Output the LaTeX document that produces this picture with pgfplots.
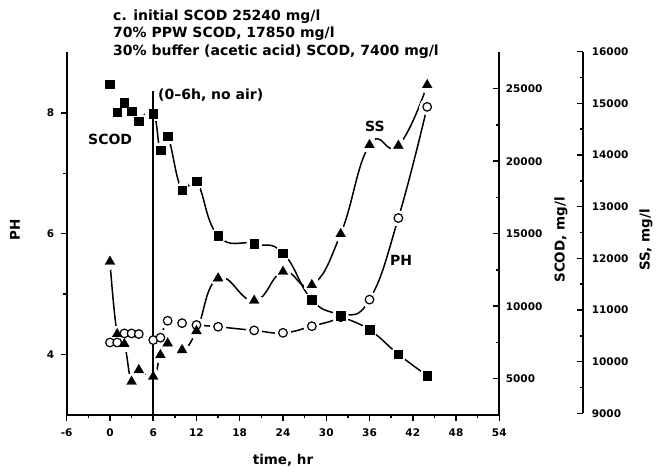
\documentclass[border=0pt]{standalone}
\usepackage{fontspec}
\setmainfont{DejaVu Sans}
\usepackage{pgfplots}
\usepackage{pgfplotstable}
\pgfplotsset{compat=1.18}

\pgfplotstableread{
t ph
0 4.20
1 4.20
2 4.35
3 4.35
4 4.34
6 4.24
7 4.28
8 4.56
10 4.52
12 4.49
15 4.46
20 4.40
24 4.36
28 4.47
32 4.62
36 4.91
40 6.26
44 8.10
}\phdata

\pgfplotstableread{
t scod
0 25300
1 23380
2 24030
3 23450
4 22760
6 23290
7 20750
8 21720
10 17990
12 18610
15 14860
20 14310
24 13670
28 10440
32 9340
36 8370
40 6690
44 5210
}\scoddata

\pgfplotstableread{
t ss
0 11935
1 10535
2 10342
3 9612
4 9838
6 9709
7 10129
8 10355
10 10225
12 10593
15 11614
20 11180
24 11741
28 11484
32 12471
36 14194
40 14180
44 15356
}\ssdata

\newcommand\tickfont{\fontsize{10.5}{12}\selectfont\bfseries}
\newcommand\labfont{\fontsize{13.5}{16}\selectfont\bfseries}
\newcommand\txtfont{\fontsize{14}{16}\selectfont\bfseries}

\pgfplotsset{
  frame/.style={scale only axis, width=432.6pt, height=362.5pt,
    xmin=-6, xmax=54, at={(66.7pt,58pt)}, anchor=south west, clip=false,
    tick label style={font=\tickfont},
    /pgf/number format/assume math mode=true,
    /pgf/number format/1000 sep={},
    scaled ticks=false,
    axis line style={line width=2pt, black},
    every outer x axis line/.append style={line width=2pt},
    every outer y axis line/.append style={line width=2pt},
    tick style={black, line width=1.5pt},
    major tick length=6pt, minor tick length=3.5pt},
  hid/.style={frame, hide axis},
  phs/.style={ymin=3, ymax=9},
  scods/.style={ymin=2500, ymax=27500},
  sss/.style={ymin=9000, ymax=16000, height=361.6pt, at={(66.7pt,59.7pt)}},
  curve/.style={black, line width=1.5pt, smooth, tension=0.8, no markers},
  halo/.style={only marks, white, draw=white, fill=white, mark=*, mark size=7.5pt,
    mark options={draw=white, fill=white, line width=0pt}},
}

\begin{document}
\begin{tikzpicture}
\path[use as bounding box] (0,0) rectangle (657pt,473pt);

% ---------- pass 1: axes and curves ----------
\begin{axis}[frame, phs, axis x line*=bottom, axis y line*=left,
  xtick={-6,0,...,54}, minor x tick num=1, ytick={4,6,8}, minor y tick num=1,
  tick align=outside, xticklabel style={yshift=-4pt}, yticklabel style={xshift=-3pt}]
\addplot[curve] table[x=t,y=ph]{\phdata};
\end{axis}

\begin{axis}[frame, scods, axis x line=none, axis y line*=right,
  ytick={5000,10000,...,25000}, minor y tick num=1, tick align=inside,
  yticklabel style={xshift=3pt}]
\addplot[curve, skip coords between index={0}{4}] table[x=t,y=scod]{\scoddata};
\end{axis}

\begin{axis}[hid, sss]
\addplot[curve] table[x=t,y=ss]{\ssdata};
\end{axis}

\begin{axis}[frame, sss, at={(150.7pt,59.7pt)}, axis x line=none, axis y line*=right,
  ytick={9000,10000,...,16000}, minor y tick num=1, tick align=inside,
  yticklabel style={xshift=5pt}]
\addplot[draw=none] coordinates {(0,10000)};
\end{axis}

% ---------- pass 2: gaps round the markers ----------
\begin{axis}[hid, phs]
\addplot[halo] table[x=t,y=ph]{\phdata};
\end{axis}
\begin{axis}[hid, scods]
\addplot[halo] table[x=t,y=scod]{\scoddata};
\end{axis}
\begin{axis}[hid, sss]
\addplot[halo] table[x=t,y=ss]{\ssdata};
\end{axis}

% ---------- pass 3: markers ----------
\begin{axis}[hid, phs]
\addplot[black, line width=1.7pt] coordinates {(6,3) (6,8.37)};
\addplot[only marks, mark=*, mark size=4.3pt, mark options={fill=white, draw=black, line width=1.2pt}] table[x=t,y=ph]{\phdata};
\end{axis}
\begin{axis}[hid, sss]
\addplot[only marks, mark=triangle*, mark size=5.6pt, mark options={fill=black, draw=black}] table[x=t,y=ss]{\ssdata};
\end{axis}
\begin{axis}[hid, scods]
\addplot[only marks, mark=square*, mark size=4.3pt, mark options={fill=black, draw=black}] table[x=t,y=scod]{\scoddata};
\end{axis}

% ---------- texts ----------
\node[anchor=base west, inner sep=0, font=\txtfont] at (113pt,452.9pt) {c. initial SCOD 25240 mg/l};
\node[anchor=base west, inner sep=0, font=\txtfont] at (113pt,435.6pt) {70\% PPW SCOD, 17850 mg/l};
\node[anchor=base west, inner sep=0, font=\txtfont] at (113pt,417.9pt) {30\% buffer (acetic acid) SCOD, 7400 mg/l};

\node[anchor=west, inner sep=0, font=\txtfont] at (158pt,378pt) {(0--6h, no air)};
\node[anchor=west, inner sep=0, font=\txtfont] at (88pt,334pt) {SCOD};
\node[anchor=west, inner sep=0, font=\txtfont] at (365pt,347pt) {SS};
\node[anchor=west, inner sep=0, font=\txtfont] at (390pt,213pt) {PH};

\node[rotate=90, font=\labfont] at (15pt,243pt) {PH};
\node[font=\labfont] at (283pt,13pt) {time, hr};
\node[rotate=90, font=\labfont] at (561pt,233pt) {SCOD, mg/l};
\node[rotate=90, font=\labfont] at (646pt,233pt) {SS, mg/l};
\end{tikzpicture}
\end{document}
